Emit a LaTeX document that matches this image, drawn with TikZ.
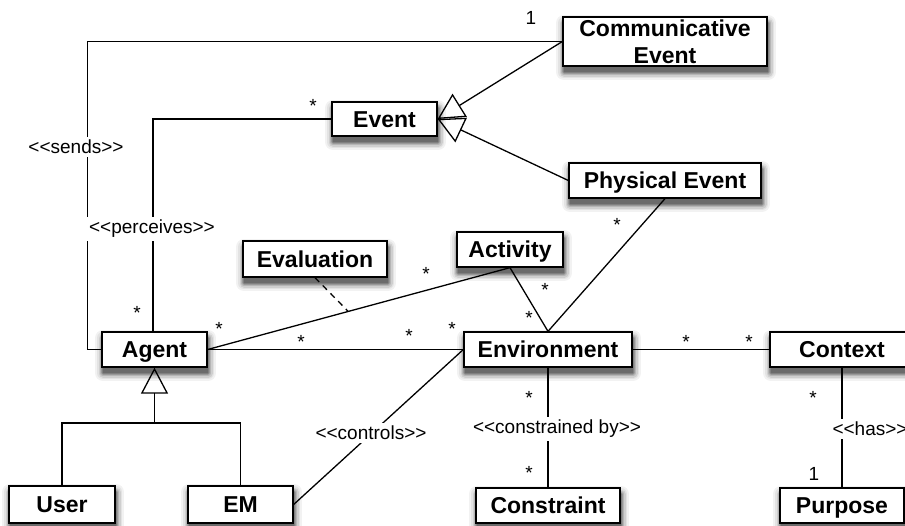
\documentclass[tikz,border=0pt]{standalone}
\usepackage{fontspec}
\setmainfont{Liberation Sans}[Ligatures=TeXOff]
\usetikzlibrary{arrows.meta,shadows}

\tikzset{
  shadowlayer/.style 2 args={general shadow={draw=black!#2, line width=#1, line join=round,
      shadow xshift=1pt, shadow yshift=-6pt}},
  softshadow/.style={
    shadowlayer={16pt}{5}, shadowlayer={12pt}{11}, shadowlayer={9pt}{19},
    shadowlayer={6pt}{29}, shadowlayer={3.5pt}{40}, shadowlayer={1.5pt}{50},
    general shadow={fill=black!58, shadow xshift=1pt, shadow yshift=-6pt}},
  cls/.style={softshadow, draw, fill=white, line width=1.3pt, inner sep=0pt,
    font=\fontsize{23}{26.7}\selectfont\bfseries, align=center},
  oneline/.style={text height=16.5pt, text depth=0pt},
  conn/.style={line width=1.3pt},
  isa/.style={conn, -{Triangle[open, length=26pt, width=27pt, line width=1.3pt]}},
  mult/.style={font=\fontsize{19}{22}\selectfont, inner sep=0pt, anchor=base},
  stereo/.style={font=\fontsize{19}{22}\selectfont, fill=white, inner sep=3pt},
}

\begin{document}
\begin{tikzpicture}[x=1pt, y=-1pt]
\useasboundingbox (0,0) rectangle (905,525);

% classes
\node[cls, oneline, minimum width=105pt, minimum height=34pt] (event) at (384.5,119) {Event};
\node[cls, minimum width=204pt, minimum height=49pt] (comm) at (665,41.5) {Communicative\\Event};
\node[cls, oneline, minimum width=192pt, minimum height=35pt] (phys) at (665,180.5) {Physical Event};
\node[cls, oneline, minimum width=106pt, minimum height=35pt] (activity) at (510,249.5) {Activity};
\node[cls, oneline, minimum width=144pt, minimum height=36pt] (evaluation) at (315,259) {Evaluation};
\node[cls, oneline, minimum width=105pt, minimum height=35pt] (agent) at (154.5,349.5) {Agent};
\node[cls, oneline, minimum width=106pt, minimum height=37pt] (user) at (62,504.5) {User};
\node[cls, oneline, minimum width=105pt, minimum height=37pt] (em) at (240.5,504.5) {EM};
\node[cls, oneline, minimum width=168pt, minimum height=35pt] (env) at (548,349.5) {Environment};
\node[cls, oneline, minimum width=144pt, minimum height=35pt] (context) at (842,349.5) {Context};
\node[cls, oneline, minimum width=144pt, minimum height=35pt] (constraint) at (548,505.5) {Constraint};
\node[cls, oneline, minimum width=124pt, minimum height=35pt] (purpose) at (842,505.5) {Purpose};

% associations
\draw[conn] (agent.west) -- ++(-14,0) |- (comm.west);
\draw[conn] ([xshift=-1.5pt]agent.north) |- (event.west);
\draw[conn] (agent.east) -- (env.west);
\draw[conn] (agent.east) -- coordinate[pos=0.465] (assoc) (activity.south);
\draw[conn, dash pattern=on 6pt off 5pt] (evaluation.south) -- (assoc);
\draw[conn] (activity.south) -- (env.north);
\draw[conn] (phys.south) -- (env.north);
\draw[conn] (em.east) -- (env.west);
\draw[conn] (env.east) -- (context.west);
\draw[conn] (env.south) -- (constraint.north);
\draw[conn] (context.south) -- (purpose.north);

% generalisations
\draw[isa] (comm.west) -- (event.east);
\draw[isa] (phys.west) -- (event.east);
\coordinate (fork) at (agent.south |- 0,423);
\draw[conn] (user.north) |- (fork) -| (em.north);
\draw[isa] (fork) -- (agent.south);

% stereotypes
\node[stereo] (sends) at (76,147) {<<sends>>};
\node[stereo] (perceives) at (152,229) {<<perceives>>};
\node[stereo] (controls) at (371,433) {<<controls>>};
\node[stereo] (constrained) at (557,429) {<<constrained by>>};
\node[stereo] (has) at (870,429) {<<has>>};

% multiplicities
\node[mult] (m1) at (531,24) {1};
\node[mult] (m2) at (313,112) {*};
\node[mult] (m3) at (137,319) {*};
\node[mult] (m4) at (219,335) {*};
\node[mult] (m5) at (301,348) {*};
\node[mult] (m6) at (426,280) {*};
\node[mult] (m7) at (409,342) {*};
\node[mult] (m8) at (452,335) {*};
\node[mult] (m9) at (545,296) {*};
\node[mult] (m10) at (529,324) {*};
\node[mult] (m11) at (617,231) {*};
\node[mult] (m12) at (686,348) {*};
\node[mult] (m13) at (749,348) {*};
\node[mult] (m14) at (529,404) {*};
\node[mult] (m15) at (529,479) {*};
\node[mult] (m16) at (813,404) {*};
\node[mult] (m17) at (814,480) {1};
\end{tikzpicture}
\end{document}
